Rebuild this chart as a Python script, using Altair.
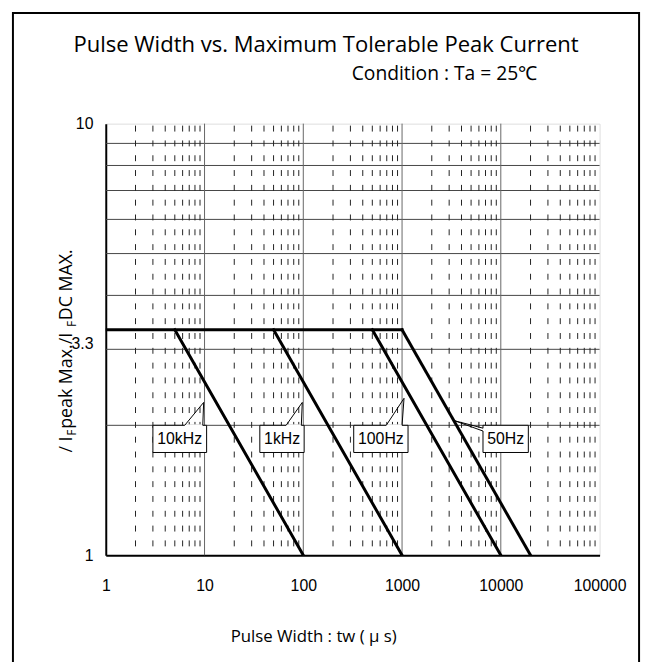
import altair as alt
import pandas as pd

# ---------------- data ----------------
curve_names = ["DC limit", "10kHz", "1kHz", "100Hz", "50Hz"]
curve_start_x = [1, 5, 50, 500, 1000]
curve_end_x = [1000, 100, 1000, 10000, 20000]
curve_start_y = [3.33, 3.33, 3.33, 3.33, 3.33]
curve_end_y = [3.33, 1, 1, 1, 1]

x_label_values = [1, 10, 100, 1000, 10000, 100000]
y_label_values = [1, 3.3, 10]
y_grid_values = [2, 3, 4, 5, 6, 7, 8, 9]
x_major_grid = [10, 100, 1000, 10000]
x_minor_grid = [m * d for d in [1, 10, 100, 1000, 10000] for m in range(2, 10)]

callout_text = ["10kHz", "1kHz", "100Hz", "50Hz"]
box_x1 = [3.0, 36.3, 324, 6600]
box_x2 = [10.5, 102, 1150, 19000]
box_y1 = [2.0, 2.0, 2.0, 2.0]
box_y2 = [1.73, 1.73, 1.73, 1.73]
text_x = [5.6, 61, 610, 11200]
text_y = [1.86, 1.86, 1.86, 1.86]
wedge_base1_x = [6.3, 67, 692, 6600]
wedge_base1_y = [2.0, 2.0, 2.0, 1.97]
wedge_tip_x = [9.8, 97.7, 1047, 3390]
wedge_tip_y = [2.26, 2.26, 2.31, 2.05]
wedge_base2_x = [9.6, 95.5, 1000, 6600]
wedge_base2_y = [2.0, 2.0, 2.0, 1.94]

# ---------------- tables ----------------
rows = []
for n, sx, ex, sy, ey in zip(curve_names, curve_start_x, curve_end_x, curve_start_y, curve_end_y):
    rows.append({"series": n, "o": 0, "x": sx, "y": sy})
    rows.append({"series": n, "o": 1, "x": ex, "y": ey})
curves = pd.DataFrame(rows)

boxes = pd.DataFrame({"label": callout_text, "x1": box_x1, "x2": box_x2, "y1": box_y1,
                      "y2": box_y2, "tx": text_x, "ty": text_y,
                      "b1x": wedge_base1_x, "b1y": wedge_base1_y,
                      "b2x": wedge_base2_x, "b2y": wedge_base2_y})
wrows = []
for i, lab in enumerate(callout_text):
    wrows.append({"label": lab, "o": 0, "x": wedge_base1_x[i], "y": wedge_base1_y[i]})
    wrows.append({"label": lab, "o": 1, "x": wedge_tip_x[i], "y": wedge_tip_y[i]})
    wrows.append({"label": lab, "o": 2, "x": wedge_base2_x[i], "y": wedge_base2_y[i]})
wedges = pd.DataFrame(wrows)

xs = alt.Scale(type="log", domain=[1, 100000], nice=False)
ys = alt.Scale(type="log", domain=[1, 10], nice=False)

W, H = 500, 437
LABEL_FONT = "Liberation Sans"
TITLE_FONT = "Open Sans"

x_axis = alt.Axis(
    values=x_label_values, format="d", grid=False, ticks=False, tickSize=0,
    labelFont=LABEL_FONT, labelFontSize=16, labelColor="#000",
    labelPadding=31, labelBaseline="middle", labelFlush=False,
    domainColor="#000", domainWidth=2,
    title="Pulse Width : tw ( \u03bc s)", titleFont=TITLE_FONT, titleFontSize=17,
    titleFontWeight="normal", titleColor="#000", titleX=210, titleY=82,
    titleAlign="center", titleBaseline="middle",
)
y_axis = alt.Axis(
    values=y_label_values, grid=False, ticks=False, tickSize=0,
    labelExpr="datum.value == 3.3 ? '3.3' : format(datum.value, 'd')",
    labelFont=LABEL_FONT, labelFontSize=16, labelColor="#000",
    labelPadding=13, labelFlush=False,
    labelOffset={"condition": {"test": "datum.value == 3.3", "value": 12}, "value": 0},
    domainColor="#000", domainWidth=2, title=None,
)


def X(field):
    return alt.X(field, scale=xs, axis=x_axis)


def Y(field):
    return alt.Y(field, scale=ys, axis=y_axis)


# ---------------- layers ----------------
v_minor = alt.Chart(pd.DataFrame({"x": x_minor_grid})).mark_rule(
    color="#222", strokeWidth=1, strokeDash=[6, 9], strokeDashOffset=13
).encode(x=X("x:Q"), y=alt.value(0), y2=alt.value(H))

v_major = alt.Chart(pd.DataFrame({"x": x_major_grid})).mark_rule(
    color="#666", strokeWidth=1
).encode(x=X("x:Q"))

h_grid = alt.Chart(pd.DataFrame({"y": y_grid_values})).mark_rule(
    color="#444", strokeWidth=1
).encode(y=Y("y:Q"))

lines = alt.Chart(curves).mark_line(
    color="#000", strokeWidth=3, strokeCap="square", clip=True
).encode(x=X("x:Q"), y=Y("y:Q"), detail="series:N", order="o:Q")

box_rect = alt.Chart(boxes).mark_rect(fill="white", stroke="#000", strokeWidth=1).encode(
    x=X("x1:Q"), x2="x2:Q", y=Y("y1:Q"), y2="y2:Q",
)
box_gap = alt.Chart(boxes).mark_rule(color="white", strokeWidth=2).encode(
    x=X("b1x:Q"), x2="b2x:Q", y=Y("b1y:Q"), y2="b2y:Q",
)
wedge_lines = alt.Chart(wedges).mark_line(color="#000", strokeWidth=1).encode(
    x=X("x:Q"), y=Y("y:Q"), detail="label:N", order="o:Q",
)
box_text = alt.Chart(boxes).mark_text(
    font=LABEL_FONT, fontSize=16, color="#000", align="center", baseline="middle"
).encode(x=X("tx:Q"), y=Y("ty:Q"), text="label:N")

# outer frame and titles (decoration)
frame = alt.Chart(pd.DataFrame({"a": [0]})).mark_rect(
    fill=None, stroke="#000", strokeWidth=2
).encode(x=alt.value(-94), x2=alt.value(540), y=alt.value(-112), y2=alt.value(560))

title = alt.Chart(pd.DataFrame({"t": ["Pulse Width vs. Maximum Tolerable Peak Current"]})).mark_text(
    font=TITLE_FONT, fontSize=22.3, color="#000", align="center", baseline="alphabetic"
).encode(text="t:N", x=alt.value(223), y=alt.value(-73))

subtitle = alt.Chart(pd.DataFrame({"t": ["Condition : Ta = 25\u2103"]})).mark_text(
    font=TITLE_FONT, fontSize=19.5, color="#000", align="center", baseline="alphabetic"
).encode(text="t:N", x=alt.value(343), y=alt.value(-44))

# rotated y title with subscripts
ytitle_parts = ["/ I", "F", " peak Max./I", "F", " DC MAX."]
ytitle_x = [-34, -30, -34, -30, -34]
ytitle_y = [333, 316, 309, 206, 199]
ytitle_size = [18, 12, 18, 12, 18]
ytitle_layers = []
for t, px, py, fs in zip(ytitle_parts, ytitle_x, ytitle_y, ytitle_size):
    ytitle_layers.append(
        alt.Chart(pd.DataFrame({"t": [t]})).mark_text(
            font=TITLE_FONT, fontSize=fs, color="#000", align="left",
            baseline="alphabetic", angle=270
        ).encode(text="t:N", x=alt.value(px), y=alt.value(py))
    )

chart = alt.layer(
    h_grid, v_minor, v_major, lines, box_rect, box_gap, wedge_lines, box_text,
    frame, title, subtitle, *ytitle_layers
).properties(
    width=W, height=H,
    padding={"left": 99, "top": 113, "right": 46, "bottom": 104},
    autosize=alt.AutoSizeParams(type="none"),
).configure_view(stroke="#888", strokeWidth=1).configure(background="white")

chart.save("out.html", embed_options={"renderer": "svg", "actions": False})
